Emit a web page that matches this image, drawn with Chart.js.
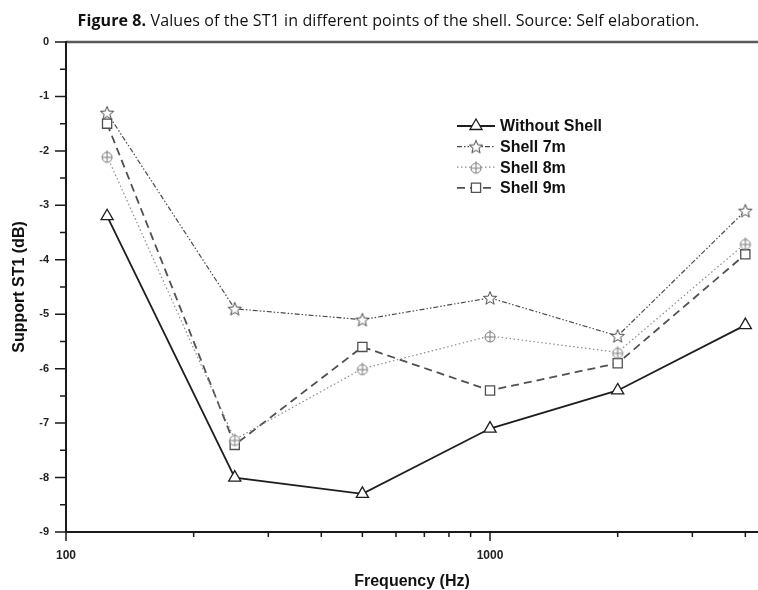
<!DOCTYPE html>
<html>
<head>
<meta charset="utf-8">
<script src="https://cdn.jsdelivr.net/npm/chart.js@4.4.1/dist/chart.umd.min.js"></script>
<style>
  html, body { margin: 0; padding: 0; background: #fff; }
  #wrap { position: relative; width: 758px; height: 590px; }
  #chart { position: absolute; left: 0; top: 0; }
  #caption {
    position: absolute; left: 0; top: 9px; width: 777px; text-align: center;
    font-family: "Open Sans", sans-serif; font-size: 16px; line-height: 22px;
    letter-spacing: 0.1px; color: #111; white-space: nowrap;
  }
</style>
</head>
<body>
<div id="wrap">
  <canvas id="chart" width="758" height="590"></canvas>
  <div id="caption"><b>Figure 8.</b> Values of the ST1 in different points of the shell. Source: Self elaboration.</div>
</div>
<script>
// ---------------------
// Data
// ---------------------
const frequencies = [125, 250, 500, 1000, 2000, 4000];
const withoutShell = [-3.2, -8.0, -8.3, -7.1, -6.4, -5.2];
const shell7m = [-1.3, -4.9, -5.1, -4.7, -5.4, -3.1];
const shell8m = [-2.1, -7.3, -6.0, -5.4, -5.7, -3.7];
const shell9m = [-1.5, -7.4, -5.6, -6.4, -5.9, -3.9];
const seriesNames = ['Without Shell', 'Shell 7m', 'Shell 8m', 'Shell 9m'];

const xTicks = [100, 200, 300, 400, 500, 600, 700, 800, 900, 1000, 2000, 3000, 4000];
const xLabels = [100, 1000];
const yTicks = [0, -0.5, -1, -1.5, -2, -2.5, -3, -3.5, -4, -4.5, -5, -5.5, -6, -6.5, -7, -7.5, -8, -8.5, -9];

// ---------------------
// Custom markers
// ---------------------
function makeStar(color) {
  const c = document.createElement('canvas');
  c.width = 16; c.height = 16;
  const g = c.getContext('2d');
  g.beginPath();
  for (let i = 0; i < 10; i++) {
    const a = -Math.PI / 2 + i * Math.PI / 5;
    const r = i % 2 ? 3 : 7;
    g.lineTo(8 + r * Math.cos(a), 8.6 + r * Math.sin(a));
  }
  g.closePath();
  g.fillStyle = '#fff'; g.fill();
  g.strokeStyle = color; g.lineWidth = 1; g.stroke();
  return c;
}

function makeCrossCircle(color) {
  const c = document.createElement('canvas');
  c.width = 14; c.height = 16;
  const g = c.getContext('2d');
  g.beginPath();
  g.arc(7, 9, 5, 0, Math.PI * 2);
  g.fillStyle = '#fff'; g.fill();
  g.strokeStyle = color; g.lineWidth = 1; g.stroke();
  g.beginPath();
  g.moveTo(7, 2); g.lineTo(7, 14);
  g.moveTo(2, 9); g.lineTo(12, 9);
  g.stroke();
  return c;
}

const seriesValues = [withoutShell, shell7m, shell8m, shell9m];
const seriesColors = ['#1e1e1e', '#4a4a4a', '#8c8c8c', '#505050'];
const seriesDash = [[], [5, 2, 1.5, 2, 1.5, 2], [1.5, 2.5], [8, 5]];
const seriesWidth = [1.8, 1.2, 1.2, 1.8];
const seriesPoint = ['triangle', makeStar('#4a4a4a'), makeCrossCircle('#7a7a7a'), 'rect'];
const seriesRadius = [7, 7, 6, 6.5];

// ---------------------
// Plugins: axes frame + tick marks, legend
// ---------------------
const axisFrame = {
  id: 'axisFrame',
  afterDraw(chart) {
    const { ctx, chartArea: a, scales } = chart;
    ctx.save();
    // top frame line
    ctx.strokeStyle = '#5a5a5a';
    ctx.lineWidth = 2.5;
    ctx.beginPath();
    ctx.moveTo(a.left, a.top); ctx.lineTo(chart.width, a.top);
    ctx.stroke();
    // left + bottom axes
    ctx.strokeStyle = '#1a1a1a';
    ctx.lineWidth = 2;
    ctx.beginPath();
    ctx.moveTo(a.left, a.top - 1); ctx.lineTo(a.left, a.bottom);
    ctx.lineTo(chart.width, a.bottom);
    ctx.stroke();
    // tick marks
    ctx.lineWidth = 1.5;
    ctx.beginPath();
    xTicks.forEach(v => {
      const px = scales.x.getPixelForValue(v);
      const len = xLabels.includes(v) ? 9 : 5;
      ctx.moveTo(px, a.bottom); ctx.lineTo(px, a.bottom + len);
    });
    yTicks.forEach(v => {
      const py = scales.y.getPixelForValue(v);
      const len = Number.isInteger(v) ? 11 : 6;
      ctx.moveTo(a.left, py); ctx.lineTo(a.left - len, py);
    });
    ctx.stroke();
    ctx.restore();
  }
};

const insideLegend = {
  id: 'insideLegend',
  afterDraw(chart) {
    const { ctx } = chart;
    const x0 = 457, x1 = 495, tx = 500, y0 = 126, dy = 20.6;
    ctx.save();
    chart.data.datasets.forEach((ds, i) => {
      const y = y0 + i * dy;
      ctx.strokeStyle = ds.borderColor;
      ctx.lineWidth = ds.borderWidth;
      ctx.setLineDash(ds.borderDash);
      ctx.beginPath();
      ctx.moveTo(x0, y); ctx.lineTo(x1, y);
      ctx.stroke();
      ctx.setLineDash([]);
      ctx.fillStyle = '#fff';
      ctx.strokeStyle = ds.pointBorderColor;
      ctx.lineWidth = ds.pointBorderWidth;
      Chart.helpers.drawPoint(ctx, {
        pointStyle: ds.pointStyle, radius: ds.pointRadius, borderWidth: ds.pointBorderWidth, rotation: 0
      }, (x0 + x1) / 2, y);
      ctx.fillStyle = '#111';
      ctx.font = 'bold 16px "Liberation Sans", Arial, sans-serif';
      ctx.textBaseline = 'middle';
      ctx.fillText(ds.label, tx, y + 1);
    });
    ctx.restore();
  }
};

// ---------------------
// Chart
// ---------------------
const datasets = seriesNames.map((name, i) => ({
  label: name,
  data: frequencies.map((f, j) => ({ x: f, y: seriesValues[i][j] })),
  borderColor: seriesColors[i],
  borderWidth: seriesWidth[i],
  borderDash: seriesDash[i],
  pointStyle: seriesPoint[i],
  pointRadius: seriesRadius[i],
  pointBorderColor: seriesColors[i],
  pointBorderWidth: 1.3,
  pointBackgroundColor: '#fff',
  tension: 0,
  fill: false
}));

const xTickFont = { family: '"Liberation Sans", Arial, sans-serif', size: 12, weight: 'bold' };
const yTickFont = { family: '"Liberation Sans", Arial, sans-serif', size: 11, weight: 'bold' };
const titleFont = { family: '"Liberation Sans", Arial, sans-serif', size: 16, weight: 'bold', lineHeight: 1 };

new Chart(document.getElementById('chart'), {
  type: 'line',
  data: { datasets },
  options: {
    responsive: false,
    devicePixelRatio: 1,
    animation: false,
    events: [],
    layout: { autoPadding: false, padding: { top: 42, right: 0, bottom: 0, left: 0 } },
    plugins: { legend: { display: false }, tooltip: { enabled: false }, title: { display: false } },
    scales: {
      x: {
        type: 'logarithmic',
        min: 100,
        max: 4285,
        grid: { display: false, drawTicks: false },
        border: { display: false },
        afterBuildTicks: s => { s.ticks = xTicks.map(v => ({ value: v })); },
        afterFit: s => { s.height = 58; s.paddingLeft = 0; s.paddingRight = 0; },
        ticks: {
          autoSkip: false, maxRotation: 0, padding: 16, color: '#222', font: xTickFont,
          callback: v => xLabels.includes(v) ? String(v) : ''
        },
        title: { display: true, text: 'Frequency (Hz)', color: '#111', font: titleFont, padding: { top: 0, bottom: 0 } }
      },
      y: {
        min: -9,
        max: 0,
        grid: { display: false, drawTicks: false },
        border: { display: false },
        afterBuildTicks: s => { s.ticks = yTicks.map(v => ({ value: v })); },
        afterFit: s => { s.width = 66; },
        ticks: {
          autoSkip: false, padding: 17, color: '#222', font: yTickFont,
          callback: v => Number.isInteger(v) ? String(v) : ''
        },
        title: { display: true, text: 'Support ST1 (dB)', color: '#111', font: titleFont, padding: { top: 12, bottom: 0 } }
      }
    }
  },
  plugins: [axisFrame, insideLegend]
});
</script>
</body>
</html>
